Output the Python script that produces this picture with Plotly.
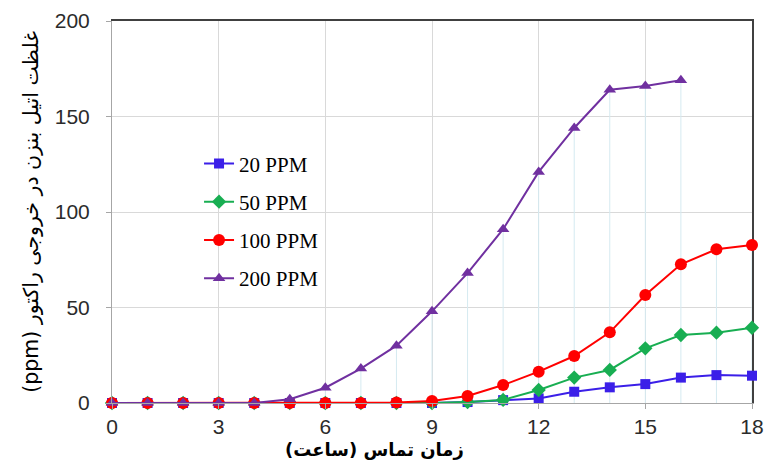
import plotly.graph_objects as go

hours = list(range(19))
ppm20 = [0, 0, 0, 0, 0, 0, 0, 0, 0, 0, 0.5, 1.5, 2.4, 5.9, 8.2, 9.9, 13.3, 14.6, 14.3]
ppm50 = [0, 0, 0, 0, 0, 0, 0, 0, 0, 0, 0.5, 1.6, 6.8, 13.3, 17.3, 28.6, 35.6, 36.8, 39.4]
ppm100 = [0, 0, 0, 0, 0, 0, 0, 0, 0.3, 1.0, 3.7, 9.4, 16.4, 24.6, 37.0, 56.5, 72.6, 80.5, 82.7]
hours200 = list(range(17))
ppm200 = [0, 0, 0, 0, 0, 2, 8, 18, 30, 48, 68, 91, 121, 144, 164, 166, 169]

names = ["20 PPM", "50 PPM", "100 PPM", "200 PPM"]
xtick_vals = [0, 3, 6, 9, 12, 15, 18]
ytick_vals = [0, 50, 100, 150, 200]
x_title = "\u200fزمان تماس (ساعت)\u200f"
y_title = "(ppm) غلظت اتیل بنزن در خروجی راکتور"

fig = go.Figure()

# drop lines from highest point at each hour
series = [(hours, ppm20), (hours, ppm50), (hours, ppm100), (hours200, ppm200)]
maxv = {}
for xs, ys in series:
    for x, y in zip(xs, ys):
        maxv[x] = max(maxv.get(x, 0), y)
dx, dy = [], []
for x in sorted(maxv):
    dx += [x, x, None]
    dy += [0, maxv[x], None]
fig.add_trace(go.Scatter(x=dx, y=dy, mode="lines", line=dict(color="#D5EAF1", width=1),
                         showlegend=False, hoverinfo="skip", cliponaxis=False))

styles = [
    ("#3B1FE8", "square", 10),
    ("#18AE52", "diamond", 11),
    ("#FF0000", "circle", 12),
    ("#7030A0", "triangle-up", 11),
]
for (xs, ys), name, (col, sym, sz) in zip(series, names, styles):
    fig.add_trace(go.Scatter(x=xs, y=ys, name=name, mode="lines+markers",
                             line=dict(color=col, width=2),
                             marker=dict(symbol=sym, size=sz, color=col),
                             legendgroup=name, cliponaxis=False))

# secondary axes for the dark top/right frame
fig.add_trace(go.Scatter(x=[0], y=[0], xaxis="x2", yaxis="y2", mode="markers",
                         marker=dict(opacity=0), showlegend=False, hoverinfo="skip"))

tickfont = dict(family="Liberation Sans", size=21, color="#2B2B2B")
fig.update_layout(
    width=767, height=463,
    margin=dict(l=112, r=15, t=21, b=60),
    paper_bgcolor="white", plot_bgcolor="white",
    xaxis=dict(range=[0, 18], tickvals=xtick_vals, showgrid=True, gridcolor="#D9D9D9",
               gridwidth=1, zeroline=False, showline=True, linecolor="#A6A6A6", linewidth=1,
               ticks="outside", ticklen=5, tickcolor="#A6A6A6", automargin=False,
               tickfont=tickfont),
    yaxis=dict(range=[0, 200], tickvals=ytick_vals, showgrid=True, gridcolor="#D9D9D9",
               gridwidth=1, zeroline=False, showline=True, linecolor="#A6A6A6", linewidth=1,
               ticks="outside", ticklen=5, tickcolor="#A6A6A6", automargin=False,
               ticklabelstandoff=12, tickfont=tickfont),
    xaxis2=dict(range=[0, 18], overlaying="x", side="top", showline=True, linecolor="#404040",
                linewidth=1.5, showticklabels=False, showgrid=False, zeroline=False, ticks="",
                layer="below traces", automargin=False),
    yaxis2=dict(range=[0, 200], overlaying="y", side="right", showline=True, linecolor="#404040",
                linewidth=1.5, showticklabels=False, showgrid=False, zeroline=False, ticks="",
                layer="below traces", automargin=False),
    legend=dict(x=0.136, y=0.68, xanchor="left", yanchor="top", bgcolor="rgba(0,0,0,0)",
                font=dict(family="Liberation Serif", size=21, color="black"),
                traceorder="grouped", tracegroupgap=8),
    showlegend=True,
    annotations=[
        dict(text="<b>" + x_title + "</b>", xref="paper", yref="paper",
             x=0.41, y=-0.123, xanchor="center", yanchor="middle", showarrow=False,
             font=dict(family="DejaVu Sans", size=18, color="black")),
        dict(text=y_title, xref="paper", yref="paper", textangle=-90,
             x=-0.127, y=0.5, xanchor="center", yanchor="middle", showarrow=False,
             font=dict(family="DejaVu Sans", size=20.5, color="black")),
    ],
)

fig.write_html("out.html", config={"displayModeBar": False},
               post_script="document.body.style.margin='0';document.body.style.overflow='hidden';")
